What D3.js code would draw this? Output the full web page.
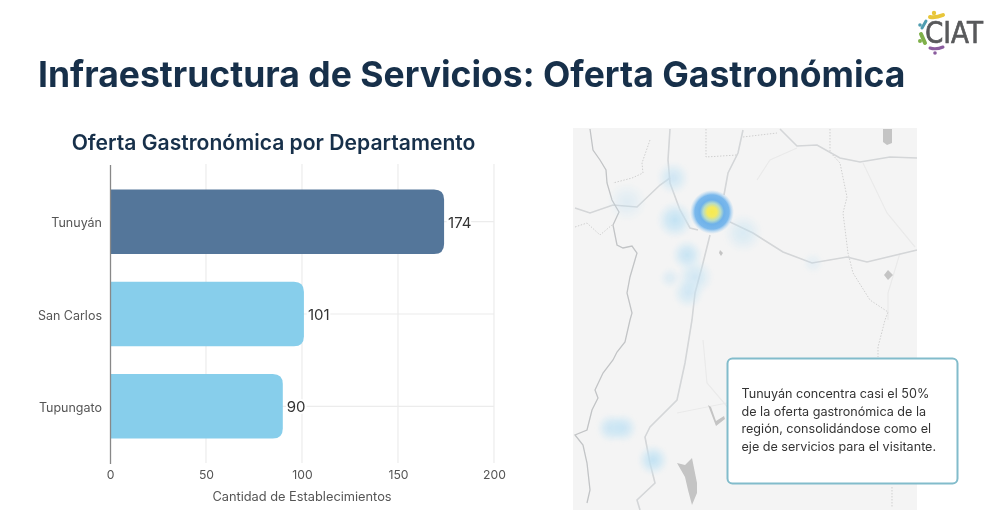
<!DOCTYPE html>
<html>
<head>
<meta charset="utf-8">
<script src="https://cdn.jsdelivr.net/npm/d3@7"></script>
<style>
  html, body { margin: 0; padding: 0; background: #fff; }
  svg { display: block; font-family: Inter, "Noto Sans", sans-serif; filter: blur(0.35px); }
</style>
</head>
<body>
<script>
// chart values
var departamentos = ["Tunuyán", "San Carlos", "Tupungato"];
var establecimientos = [174, 101, 90];
var barColors = ["#54769a", "#87ceeb", "#87ceeb"];
var xTicks = [0, 50, 100, 150, 200];

var mainTitle = "Infraestructura de Servicios: Oferta Gastronómica";
var chartTitle = "Oferta Gastronómica por Departamento";
var xTitle = "Cantidad de Establecimientos";
var noteLines = [
  "Tunuyán concentra casi el 50%",
  "de la oferta gastronómica de la",
  "región, consolidándose como el",
  "eje de servicios para el visitante."
];

// heat spots, in map units
var hotX = [100, 54, 102, 114, 122, 97, 115, 170, 240, 38, 50, 80];
var hotY = [50, 74, 92, 127, 149, 150, 165, 105, 135, 300, 300, 332];
var hotR = [17, 20, 19, 16, 19, 11, 16, 20, 11, 15, 15, 16];
var hotA = [0.75, 0.4, 1, 0.9, 0.7, 0.45, 0.7, 0.55, 0.3, 0.85, 0.85, 1];

// map outlines, in map units
var borderLine = [[17,1],[20,22],[27,32],[33,42],[34,55],[39,72],[46,84],[40,97],[44,117],[50,120],[59,118],[64,125],[57,149],[54,165],[59,185],[57,192],[52,214],[44,224],[40,232],[30,245],[22,262],[25,270],[19,282],[14,302],[2,307],[10,317],[14,335],[17,362],[14,375]];
var roads = [
  [[97,1],[95,32],[97,55],[107,82],[117,100],[125,102]],
  [[2,80],[17,85],[40,77],[64,79],[87,57],[97,50]],
  [[170,2],[165,25],[155,45],[151,67]],
  [[157,94],[180,105],[210,124],[239,135],[274,129],[294,134],[344,122]],
  [[137,107],[129,139],[122,165],[119,192],[112,235],[104,272],[77,299],[72,309],[77,335],[82,355],[64,372],[67,382]],
  [[207,1],[224,18],[244,17],[267,30],[287,34],[317,29],[344,30]]
];
var dottedLines = [
  [[133,1],[133,29],[164,27]],
  [[170,9],[204,5]],
  [[77,12],[69,35],[70,45],[59,50],[40,55]],
  [[257,1],[257,24],[267,35],[274,69],[270,85],[275,125],[280,145],[297,172],[315,184],[312,192],[305,219],[305,229]],
  [[319,359],[319,379]],
  [[2,99],[14,95],[27,107],[39,97]]
];
var faintLines = [
  [[184,52],[197,32],[224,20]],
  [[290,35],[314,85],[342,119]],
  [[130,212],[134,255],[157,282]],
  [[104,285],[154,275]],
  [[327,125],[315,165],[315,192]]
];
var lakes = [
  [[310,1],[319,1],[319,15],[314,17],[310,14]],
  [[315,142],[320,147],[315,152],[311,147]],
  [[147,122],[150,125],[148,128],[146,125]],
  [[104,335],[112,337],[119,330],[124,355],[124,365],[119,377],[115,362],[112,349]],
  [[135,277],[138,279],[143,293],[151,288],[152,291],[143,298],[138,285]]
];

var svg = d3.select("body").append("svg")
    .attr("width", 1000)
    .attr("height", 520);

svg.append("text")
    .attr("x", 38).attr("y", 87)
    .attr("font-size", 35.5).attr("font-weight", 700)
    .attr("fill", "#17304a")
    .text(mainTitle);

// bar chart
var x = d3.scaleLinear().domain([0, 200]).range([110, 494]);
var y = d3.scaleBand().domain(departamentos).range([164.5, 463.5]).paddingInner(0.3).paddingOuter(0.27);

svg.append("text")
    .attr("x", 273.5).attr("y", 150)
    .attr("text-anchor", "middle")
    .attr("font-size", 21.1).attr("font-weight", 600)
    .attr("fill", "#17304a")
    .text(chartTitle);

svg.append("g").selectAll("line").data(xTicks.slice(1)).join("line")
    .attr("x1", d => x(d)).attr("x2", d => x(d))
    .attr("y1", 164).attr("y2", 463)
    .attr("stroke", "#ececec").attr("stroke-width", 1.2);
svg.append("g").selectAll("line").data(departamentos).join("line")
    .attr("x1", 110).attr("x2", 494)
    .attr("y1", d => y(d) + y.bandwidth() / 2).attr("y2", d => y(d) + y.bandwidth() / 2)
    .attr("stroke", "#ececec").attr("stroke-width", 1.2);

function barPath(d, i) {
  var x0 = x(0), x1 = x(d), y0 = y(departamentos[i]), h = y.bandwidth(), r = 10;
  return "M" + x0 + "," + y0 + "H" + (x1 - r) + "Q" + x1 + "," + y0 + " " + x1 + "," + (y0 + r) +
    "V" + (y0 + h - r) + "Q" + x1 + "," + (y0 + h) + " " + (x1 - r) + "," + (y0 + h) + "H" + x0 + "Z";
}
svg.append("g").selectAll("path").data(establecimientos).join("path")
    .attr("d", barPath)
    .attr("fill", (d, i) => barColors[i]);

svg.append("g").selectAll("text").data(establecimientos).join("text")
    .attr("x", d => x(d) + 4)
    .attr("y", (d, i) => y(departamentos[i]) + y.bandwidth() / 2 + 6)
    .attr("font-size", 15)
    .attr("fill", "#333")
    .attr("stroke", "#fff").attr("stroke-width", 4).attr("paint-order", "stroke")
    .text(d => d);

var xAxis = svg.append("g")
    .attr("transform", "translate(0,463)")
    .call(d3.axisBottom(x).tickValues(xTicks).tickSize(0).tickPadding(7));
xAxis.select(".domain").remove();
xAxis.selectAll("text").attr("font-size", 12.2).attr("font-family", "Inter").attr("fill", "#555");

var yAxis = svg.append("g")
    .attr("transform", "translate(110,1.5)")
    .call(d3.axisLeft(y).tickSize(0).tickPadding(8));
yAxis.select(".domain").attr("stroke", "#888").attr("stroke-width", 1.3).attr("transform", "translate(0,-1.5)");
yAxis.selectAll("text").attr("font-size", 12.5).attr("font-family", "Inter").attr("fill", "#555");

svg.append("text")
    .attr("x", 302).attr("y", 501)
    .attr("text-anchor", "middle")
    .attr("font-size", 12.8)
    .attr("fill", "#555")
    .text(xTitle);

// map panel
var mapX = d3.scaleLinear().domain([0, 344]).range([573, 917]);
var mapY = d3.scaleLinear().domain([0, 382]).range([128, 510]);
var mapLine = d3.line().x(d => mapX(d[0])).y(d => mapY(d[1]));

var defs = svg.append("defs");
defs.append("clipPath").attr("id", "mapClip").append("rect")
    .attr("x", mapX(0)).attr("y", mapY(0))
    .attr("width", mapX(344) - mapX(0)).attr("height", mapY(382) - mapY(0));
defs.append("filter").attr("id", "soften").append("feGaussianBlur").attr("stdDeviation", 0.5);
defs.append("filter").attr("id", "softer").append("feGaussianBlur").attr("stdDeviation", 1.2);

var softGrad = defs.append("radialGradient").attr("id", "softHeat");
softGrad.append("stop").attr("offset", "0%").attr("stop-color", "#b9def3").attr("stop-opacity", 0.85);
softGrad.append("stop").attr("offset", "45%").attr("stop-color", "#c3e3f4").attr("stop-opacity", 0.65);
softGrad.append("stop").attr("offset", "100%").attr("stop-color", "#d5ebf6").attr("stop-opacity", 0);

var coreGrad = defs.append("radialGradient").attr("id", "coreHeat");
coreGrad.append("stop").attr("offset", "0%").attr("stop-color", "#f7ea4e");
coreGrad.append("stop").attr("offset", "22%").attr("stop-color", "#f3ea62");
coreGrad.append("stop").attr("offset", "40%").attr("stop-color", "#b7dcc8");
coreGrad.append("stop").attr("offset", "55%").attr("stop-color", "#6fb2ea");
coreGrad.append("stop").attr("offset", "78%").attr("stop-color", "#7ab8ec");
coreGrad.append("stop").attr("offset", "100%").attr("stop-color", "#a8d2f1").attr("stop-opacity", 0);

var map = svg.append("g").attr("clip-path", "url(#mapClip)");
map.append("rect")
    .attr("x", mapX(0)).attr("y", mapY(0))
    .attr("width", mapX(344) - mapX(0)).attr("height", mapY(382) - mapY(0))
    .attr("fill", "#f4f4f4");

var outlines = map.append("g").attr("filter", "url(#soften)");
outlines.selectAll(".faint").data(faintLines).join("path").attr("class", "faint")
    .attr("d", mapLine).attr("fill", "none").attr("stroke", "#eaeaea").attr("stroke-width", 1.2);
outlines.selectAll(".dotted").data(dottedLines).join("path").attr("class", "dotted")
    .attr("d", mapLine).attr("fill", "none").attr("stroke", "#cfcfcf")
    .attr("stroke-width", 1).attr("stroke-dasharray", "1.5 1.5");
outlines.selectAll(".road").data(roads).join("path").attr("class", "road")
    .attr("d", mapLine).attr("fill", "none").attr("stroke", "#d4d6d8").attr("stroke-width", 1.6);
outlines.append("path").attr("d", mapLine(borderLine))
    .attr("fill", "none").attr("stroke", "#c2c4c6").attr("stroke-width", 1.3);
outlines.selectAll(".lake").data(lakes).join("path").attr("class", "lake")
    .attr("d", d => mapLine(d) + "Z").attr("fill", "#c4c4c4");

var heat = map.append("g").attr("filter", "url(#softer)");
heat.selectAll(".hot").data(hotX).join("circle").attr("class", "hot")
    .attr("cx", d => mapX(d))
    .attr("cy", (d, i) => mapY(hotY[i]))
    .attr("r", (d, i) => hotR[i])
    .attr("opacity", (d, i) => hotA[i])
    .attr("fill", "url(#softHeat)");
// the strongest spot, in Tunuyán
map.append("circle")
    .attr("cx", mapX(139)).attr("cy", mapY(84)).attr("r", 22)
    .attr("filter", "url(#soften)")
    .attr("fill", "url(#coreHeat)");

// note box
svg.append("rect")
    .attr("x", 727.5).attr("y", 358.5)
    .attr("width", 230).attr("height", 125)
    .attr("rx", 5)
    .attr("fill", "#fff").attr("stroke", "#82bccb").attr("stroke-width", 2);
svg.append("g").selectAll("text").data(noteLines).join("text")
    .attr("x", 741.5)
    .attr("y", (d, i) => 398 + i * 17.6)
    .attr("font-size", 12.6)
    .attr("fill", "#333")
    .text(d => d);

// logo
var logo = svg.append("g");
logo.append("path").attr("d", "M930,17Q936,18 943,15").attr("fill", "none").attr("stroke", "#e8c63a").attr("stroke-width", 4).attr("stroke-linecap", "round");
logo.append("circle").attr("cx", 934).attr("cy", 13).attr("r", 2.2).attr("fill", "#e8c63a");
logo.append("path").attr("d", "M926,21L922,28").attr("fill", "none").attr("stroke", "#4f9db0").attr("stroke-width", 3).attr("stroke-linecap", "round");
logo.append("circle").attr("cx", 920).attr("cy", 25).attr("r", 1.8).attr("fill", "#4f9db0");
logo.append("path").attr("d", "M921,34L925,43").attr("fill", "none").attr("stroke", "#7fb04a").attr("stroke-width", 4).attr("stroke-linecap", "round");
logo.append("circle").attr("cx", 920).attr("cy", 41).attr("r", 2).attr("fill", "#7fb04a");
logo.append("path").attr("d", "M930,48Q936,50 943,47").attr("fill", "none").attr("stroke", "#8a5c9e").attr("stroke-width", 3).attr("stroke-linecap", "round");
logo.append("circle").attr("cx", 935).attr("cy", 53).attr("r", 1.8).attr("fill", "#8a5c9e");
logo.append("text")
    .attr("x", 925).attr("y", 43)
    .attr("font-size", 31)
    .attr("font-family", "'DejaVu Sans'")
    .attr("fill", "#58595b")
    .attr("stroke", "#58595b").attr("stroke-width", 0.7)
    .attr("textLength", 58).attr("lengthAdjust", "spacingAndGlyphs")
    .text("CIAT");
</script>
</body>
</html>
